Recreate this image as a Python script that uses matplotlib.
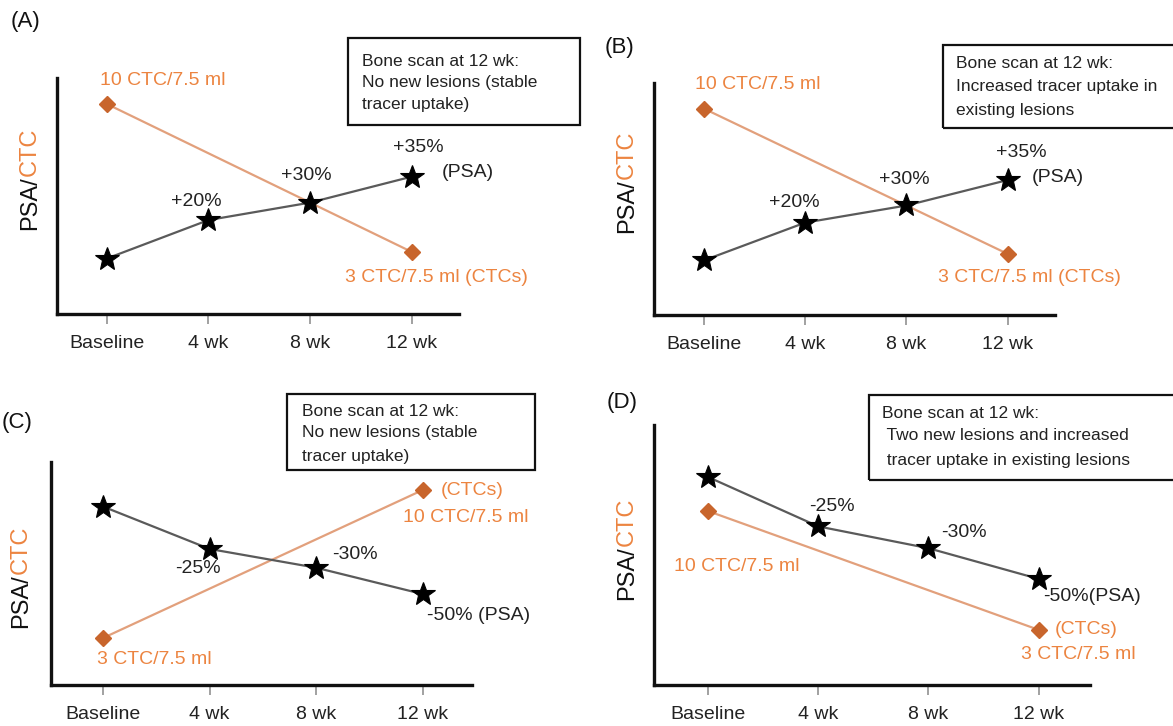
import matplotlib
matplotlib.use('Agg')
import matplotlib.pyplot as plt
from matplotlib.patches import Rectangle

plt.rcParams['font.family'] = ['Liberation Sans', 'DejaVu Sans']

W, H = 1173, 726

# data (schematic levels, arbitrary units 0-100)
weeks = ['Baseline', '4 wk', '8 wk', '12 wk']
week_x = [0, 1, 2, 3]
ctc_x = [0, 3]
psa_rising = [23.5, 39.8, 47.2, 58.2]
psa_falling = [80.0, 61.0, 52.6, 40.8]
ctc_a = [89.0, 26.3]
ctc_b = [89.0, 26.3]
ctc_c = [21.1, 87.4]
ctc_d = [66.9, 21.2]

box_a = ['Bone scan at 12 wk:', 'No new lesions (stable', 'tracer uptake)']
box_b = ['Bone scan at 12 wk:', 'Increased tracer uptake in', 'existing lesions']
box_c = ['Bone scan at 12 wk:', 'No new lesions (stable', 'tracer uptake)']
box_d = ['Bone scan at 12 wk:', ' Two new lesions and increased', ' tracer uptake in existing lesions']

psa_line = '#5a5a5a'
ctc_line = '#e2a07c'
diamond = '#c8652c'
orange = '#ec8440'

fig = plt.figure(figsize=(W / 100, H / 100), dpi=100)


def fx(x):
    return x / W


def fy(y):
    return 1 - y / H


def make_axes(left, top, right, bottom):
    ax = fig.add_axes([fx(left), fy(bottom), (right - left) / W, (bottom - top) / H])
    return ax


def panel(ax, psa, ctc):
    ax.plot(ctc_x, ctc, color=ctc_line, lw=1.6, zorder=2)
    ax.plot(week_x, psa, color=psa_line, lw=1.6, zorder=3)
    ax.plot(week_x, psa, ls='none', marker='*', ms=18, mfc='black', mec='black',
            mew=0.8, zorder=4, clip_on=False)
    ax.plot(ctc_x, ctc, ls='none', marker='D', ms=8, color=diamond, zorder=5, clip_on=False)
    ax.set_xlim(-0.49, 3.465)
    ax.set_ylim(0, 100)
    ax.set_xticks(week_x)
    ax.set_xticklabels(weeks, fontsize=14, color='#222222')
    ax.set_yticks([])
    for s in ['top', 'right']:
        ax.spines[s].set_visible(False)
    for s in ['left', 'bottom']:
        ax.spines[s].set_linewidth(2.4)
        ax.spines[s].set_color('#111111')
    ax.tick_params(axis='x', length=7, width=1.3, color='#9a9a9a', pad=8)
    ax.patch.set_alpha(0)


def note(ax, text, xy, dx, dy, color='#222222', ha='center'):
    ax.annotate(text, xy=xy, xytext=(dx, dy), textcoords='offset pixels',
                ha=ha, va='center', fontsize=14, color=color, zorder=6)


def info_box(lines, left, top, right, bottom, text_x, line_y):
    fig.add_artist(Rectangle((fx(left), fy(bottom)), (right - left) / W, (bottom - top) / H,
                             transform=fig.transFigure, fill=False, lw=1.6, edgecolor='#111111'))
    for t, y in zip(lines, line_y):
        fig.text(fx(text_x), fy(y), t, fontsize=12.5, color='#222222', ha='left', va='center')


def ylabel(x, bottom):
    t1 = fig.text(fx(x), fy(bottom), 'PSA/', rotation=90, ha='center', va='bottom',
                  fontsize=17, color='#111111')
    fig.canvas.draw()
    bb = t1.get_window_extent()
    fig.text(fx(x), bb.y1 / H, 'CTC', rotation=90, ha='center', va='bottom',
             fontsize=17, color=orange)


# (A)
ax = make_axes(57, 78, 459, 314)
panel(ax, psa_rising, ctc_a)
note(ax, '+20%', (week_x[1], psa_rising[1]), -12, 19)
note(ax, '+30%', (week_x[2], psa_rising[2]), -4, 27)
note(ax, '+35%', (week_x[3], psa_rising[3]), 7, 29)
note(ax, '(PSA)', (week_x[3], psa_rising[3]), 30, 4, ha='left')
note(ax, '10 CTC/7.5 ml', (ctc_x[0], ctc_a[0]), -7, 23, orange, 'left')
note(ax, '3 CTC/7.5 ml (CTCs)', (ctc_x[1], ctc_a[1]), -67, -26, orange, 'left')
info_box(box_a, 348, 38, 580, 125, 362, [61, 82, 105])
ylabel(30, 230)
fig.text(fx(26), fy(22), '(A)', fontsize=16, ha='center', va='center', color='#111111')

# (B)
ax = make_axes(654, 83, 1055, 315)
panel(ax, psa_rising, ctc_b)
note(ax, '+20%', (week_x[1], psa_rising[1]), -11, 20)
note(ax, '+30%', (week_x[2], psa_rising[2]), -2, 26)
note(ax, '+35%', (week_x[3], psa_rising[3]), 13, 27)
note(ax, '(PSA)', (week_x[3], psa_rising[3]), 24, 2, ha='left')
note(ax, '10 CTC/7.5 ml', (ctc_x[0], ctc_b[0]), -9, 24, orange, 'left')
note(ax, '3 CTC/7.5 ml (CTCs)', (ctc_x[1], ctc_b[1]), -70, -24, orange, 'left')
info_box(box_b, 943, 45, 1185, 128, 956, [63, 87, 111])
ylabel(627, 233)
fig.text(fx(620), fy(47), '(B)', fontsize=16, ha='center', va='center', color='#111111')

# (C)
ax = make_axes(51, 462, 472, 685)
panel(ax, psa_falling, ctc_c)
note(ax, '-25%', (week_x[1], psa_falling[1]), -12, -20)
note(ax, '-30%', (week_x[2], psa_falling[2]), 39, 13)
note(ax, '-50% (PSA)', (week_x[3], psa_falling[3]), 4, -21, ha='left')
note(ax, '(CTCs)', (ctc_x[1], ctc_c[1]), 18, 0, orange, 'left')
note(ax, '10 CTC/7.5 ml', (ctc_x[1], ctc_c[1]), -20, -27, orange, 'left')
note(ax, '3 CTC/7.5 ml', (ctc_x[0], ctc_c[0]), -6, -22, orange, 'left')
info_box(box_c, 287, 394, 535, 470, 302, [412, 433, 457])
ylabel(21, 628)
fig.text(fx(17), fy(423), '(C)', fontsize=16, ha='center', va='center', color='#111111')

# (D)
ax = make_axes(654, 425, 1090, 685)
panel(ax, psa_falling, ctc_d)
note(ax, '-25%', (week_x[1], psa_falling[1]), 14, 20)
note(ax, '-30%', (week_x[2], psa_falling[2]), 35, 16)
note(ax, '-50%(PSA)', (week_x[3], psa_falling[3]), 4, -18, ha='left')
note(ax, '(CTCs)', (ctc_x[1], ctc_d[1]), 16, 0, orange, 'left')
note(ax, '3 CTC/7.5 ml', (ctc_x[1], ctc_d[1]), -18, -25, orange, 'left')
note(ax, '10 CTC/7.5 ml', (ctc_x[0], ctc_d[0]), -34, -55, orange, 'left')
info_box(box_d, 869, 395, 1185, 480, 882, [413, 436, 460])
ylabel(627, 600)
fig.text(fx(622), fy(402), '(D)', fontsize=16, ha='center', va='center', color='#111111')

fig.savefig('out.png', dpi=100)
